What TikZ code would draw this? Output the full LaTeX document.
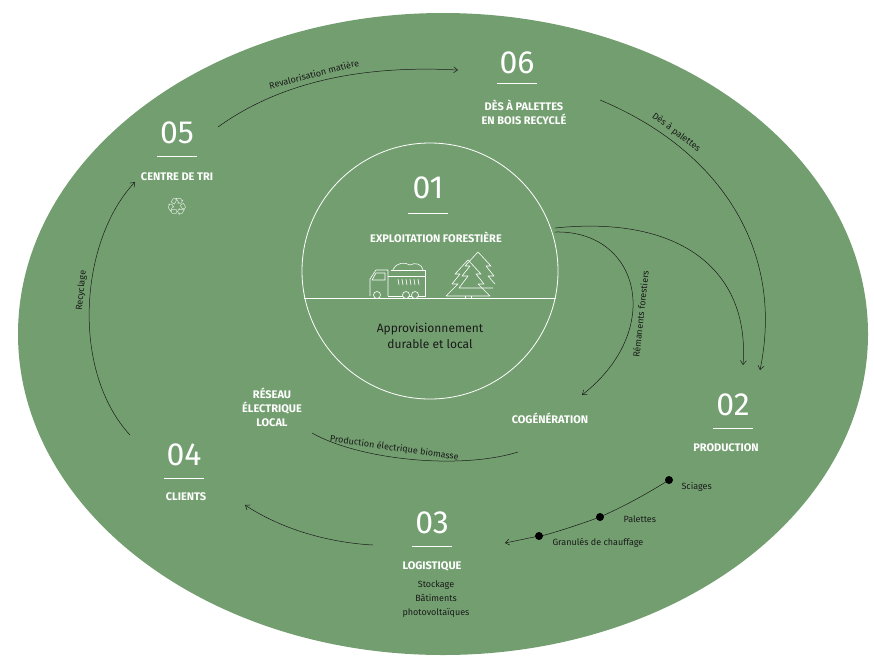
\documentclass[tikz,border=0pt]{standalone}
\usepackage{fontspec}
\setmainfont{Fira Sans}
\newfontfamily\symfont{DejaVu Sans}
\usepackage{pdfrender}
\usetikzlibrary{arrows.meta}
\definecolor{bg}{HTML}{739F70}
\definecolor{ink}{HTML}{1A1A1A}
\begin{document}
\begin{tikzpicture}[x=1pt,y=-1pt,
  num/.style={text=white,font=\fontsize{32}{32}\selectfont},
  ttl/.style={text=white,font=\bfseries\fontsize{11}{14}\selectfont,align=center},
  sub/.style={text=ink,font=\fontsize{9}{14}\selectfont,align=center},
  lbl/.style={text=ink,font=\fontsize{9}{11}\selectfont},
  uline/.style={white,line width=0.8pt},
  flow/.style={ink,line width=0.5pt,-{Straight Barb[length=4pt,width=6pt]}},
  icon/.style={white,line width=0.6pt,line join=round}]
\useasboundingbox (0,0) rectangle (874,665);
\fill[bg] (443,334) ellipse [x radius=425, y radius=321];
\draw[white,line width=0.8pt] (430,271) coordinate (c1) circle (128);
\draw[white,line width=0.6pt] (304,298) -- (556,298);
\newcommand\outl[1]{\textpdfrender{TextRenderingMode=1,LineWidth=0.6,StrokeColor=white}{#1}}
% 01
\node[num] (n01) at (428,188) {\outl{01}};
\draw[uline] (408,213) -- (448,213);
\node[ttl] (t01) at (436,237) {EXPLOITATION FORESTIÈRE};
\node[text=ink,font=\fontsize{12}{16}\selectfont,align=center] (a01) at (430,336) {Approvisionnement\\durable et local};
% truck
\begin{scope}[icon]
\draw (370,296) -- (370,279) -- (376,270) -- (388,270) -- (388,296);
\draw (372,280) -- (376,273) -- (385,273) -- (385,280) -- cycle;
\draw (388,276) -- (425,276) -- (425,296) -- (388,296);
\draw (391,270) -- (425,270) -- (425,276);
\draw (393,270) .. controls (396,262) and (405,262) .. (410,265) .. controls (415,262) and (422,264) .. (423,270);
\foreach \x in {398,402,406,410,414,418} \draw (\x,279) -- (\x+1,285);
\fill[bg] (377,295) circle (3.5); \draw (377,295) circle (3.5);
\fill[bg] (406,295) circle (3.5); \draw (406,295) circle (3.5);
\fill[bg] (415,295) circle (3.5); \draw (415,295) circle (3.5);
% trees
\draw (478,252) -- (465,266) -- (470,266) -- (462,276) -- (468,276) -- (459,288) -- (493,288);
\draw (478,252) -- (491,266) -- (486,266) -- (494,276) -- (488,276) -- (495,284);
\draw (468,260) -- (455,274) -- (460,274) -- (452,284) -- (458,284) -- (446,296) -- (490,296) -- (478,284) -- (484,284) -- (476,274) -- (481,274) -- cycle;
\draw (465,296) -- (465,298) (471,296) -- (471,298);
\end{scope}
% 06
\node[num] (n06) at (517,63) {\outl{06}};
\draw[uline] (497,83) -- (537,83);
\node[ttl] (t06) at (524,112) {DÈS À PALETTES\\EN BOIS RECYCLÉ};
% 05
\node[num] (n05) at (177,133) {\outl{05}};
\draw[uline] (157,156) -- (197,156);
\node[ttl] (t05) at (177,177) {CENTRE DE TRI};
\node[text=white,font=\symfont\fontsize{24}{24}\selectfont] (rec) at (177,207) {\symbol{"2672}};
% reseau, cogeneration
\node[ttl] (res) at (272,407) {RÉSEAU\\ÉLECTRIQUE\\LOCAL};
\node[ttl] (cog) at (550,418) {COGÉNÉRATION};
% 02
\node[num] (n02) at (733,405) {\outl{02}};
\draw[uline] (713,428) -- (753,428);
\node[ttl] (t02) at (726,448) {PRODUCTION};
% 04
\node[num] (n04) at (184,455) {\outl{04}};
\draw[uline] (164,478) -- (204,478);
\node[ttl] (t04) at (186,497) {CLIENTS};
% 03
\node[num] (n03) at (432,523) {\outl{03}};
\draw[uline] (412,546) -- (452,546);
\node[ttl] (t03) at (432,566) {LOGISTIQUE};
\node[sub] (s03) at (436,599) {Stockage\\Bâtiments\\photovoltaïques};
% flows
\coordinate (r1) at (218,127); \coordinate (r2) at (458,70);
\draw[flow] (r1) .. controls (290,75) and (380,66) .. (r2)
  node[pos=0.42,sloped,above=1pt,lbl] {Revalorisation matière};
\coordinate (d1) at (600,100); \coordinate (d2) at (760,370);
\draw[flow] (d1) .. controls (720,150) and (785,250) .. (d2)
  node[pos=0.22,sloped,above=1pt,lbl] {Dès à palettes};
\coordinate (e1) at (555,228); \coordinate (e2) at (743,365);
\draw[flow] (e1) .. controls (680,215) and (750,270) .. (e2);
\coordinate (f1) at (555,232); \coordinate (f2) at (582,395);
\draw[flow] (f1) .. controls (640,230) and (665,330) .. (f2)
  node[pos=0.62,sloped,below=1pt,lbl] {Rémanents forestiers};
\coordinate (g1) at (518,452); \coordinate (g2) at (312,433);
\draw[ink,line width=0.5pt] (g2) .. controls (360,460) and (460,470) .. (g1)
  node[pos=0.42,sloped,above=1pt,lbl] {Production électrique biomasse};
\coordinate (h1) at (373,545); \coordinate (h2) at (245,505);
\draw[flow] (h1) .. controls (320,542) and (275,525) .. (h2);
\coordinate (k1) at (130,435); \coordinate (k2) at (135,182);
\draw[flow] (k1) .. controls (70,370) and (80,240) .. (k2)
  node[pos=0.55,sloped,above=1pt,lbl] {Recyclage};
% production chain
\coordinate (p1) at (669,480); \coordinate (p2) at (600,517); \coordinate (p3) at (539,536); \coordinate (p4) at (505,543);
\draw[flow] (p1) .. controls (640,498) and (620,508) .. (p2) .. controls (570,528) and (540,537) .. (p3) -- (p4);
\fill[black] (p1) circle (4) (p2) circle (4) (p3) circle (4);
\node[lbl,anchor=west] (l1) at (678,487) {Sciages};
\node[lbl,anchor=west] (l2) at (620,519) {Palettes};
\node[lbl,anchor=west] (l3) at (549,543) {Granulés de chauffage};
\end{tikzpicture}
\end{document}
